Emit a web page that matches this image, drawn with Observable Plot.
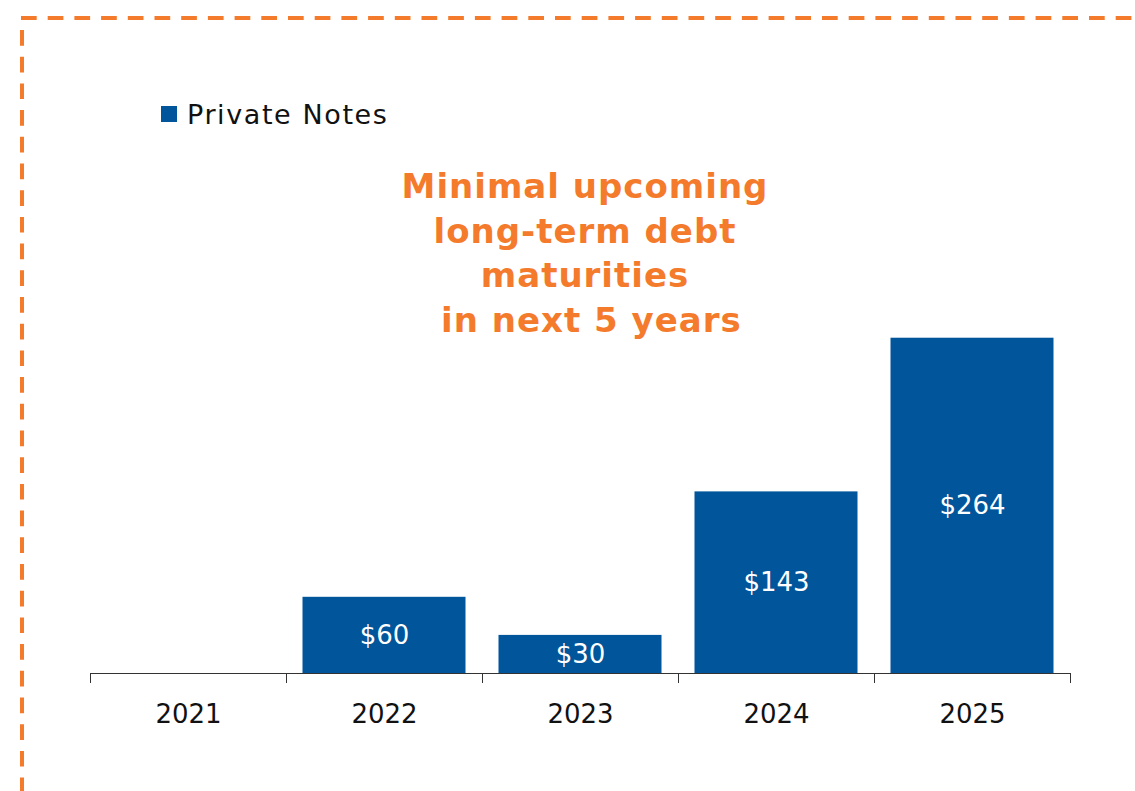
<!DOCTYPE html>
<html>
<head>
<meta charset="utf-8">
<script src="https://cdn.jsdelivr.net/npm/d3@7"></script>
<script src="https://cdn.jsdelivr.net/npm/@observablehq/plot@0.6"></script>
<style>
  html, body { margin: 0; padding: 0; background: #fff; }
  #wrap { position: relative; width: 1135px; height: 791px; overflow: hidden; font-family: "DejaVu Sans", sans-serif; }
  #chart { position: absolute; left: 0; top: 0; }
  #border { position: absolute; left: 0; top: 0; }
  #legend { position: absolute; left: 161px; top: 97px; display: flex; align-items: center; font-size: 27px; letter-spacing: 1.6px; color: #111; height: 34px; }
  #legend .sw { width: 16px; height: 16px; margin-right: 10px; }
  #title { position: absolute; left: 335px; width: 500px; top: 164px; text-align: center; font-weight: 700; font-size: 34px; letter-spacing: 1px; line-height: 44.5px; color: #F47A2C; }
</style>
</head>
<body>
<div id="wrap">
  <div id="chart"></div>
  <svg id="border" width="1135" height="791">
    <path d="M21,18 L1135,18" fill="none" stroke="#F47A2C" stroke-width="4" stroke-dasharray="15.7 11"></path>
    <path d="M22,30 L22,791" fill="none" stroke="#F47A2C" stroke-width="4" stroke-dasharray="15.7 11"></path>
  </svg>
  <div id="legend"></div>
  <div id="title"></div>
</div>
<script>
// ---- data ----
const years = [2021, 2022, 2023, 2024, 2025];
const values = [0, 60, 30, 143, 264];
const seriesName = "Private Notes";
const titleLines = ["Minimal upcoming", "long-term debt", "maturities", " in next 5 years"];

const blue = "#00559B";
const data = years.map((year, i) => ({year, value: values[i]}));
const boundaries = [...years.map(y => y - 0.5), years[years.length - 1] + 0.5];

const chart = Plot.plot({
  width: 1135,
  height: 791,
  marginLeft: 90,
  marginRight: 65,
  marginTop: 292,
  marginBottom: 118,
  style: {background: "transparent", color: "#333", fontFamily: "'DejaVu Sans', sans-serif", overflow: "visible"},
  x: {domain: [boundaries[0], boundaries[boundaries.length - 1]], ticks: boundaries, tickFormat: () => "", tickSize: 10, label: null},
  y: {domain: [0, 300], axis: null},
  marks: [
    Plot.rectY(data, {x1: d => d.year - 0.5, x2: d => d.year + 0.5, y: "value", fill: blue, insetLeft: 16.5, insetRight: 16.5}),
    Plot.ruleY([0], {stroke: "#333", strokeWidth: 1}),
    Plot.text(data.filter(d => d.value > 0), {x: "year", y: d => d.value / 2, text: d => "$" + d.value, fill: "white", fontSize: 26}),
    Plot.text(years, {x: d => d, y: () => 0, dy: 41, text: d => String(d), fill: "#111", fontSize: 26})
  ]
});
document.getElementById("chart").appendChild(chart);

const legend = document.getElementById("legend");
legend.innerHTML = `<div class="sw" style="background:${blue}"></div><span>${seriesName}</span>`;

const title = document.getElementById("title");
title.innerHTML = titleLines.map(l => `<div style="white-space:pre">${l}</div>`).join("");
</script>
</body>
</html>
